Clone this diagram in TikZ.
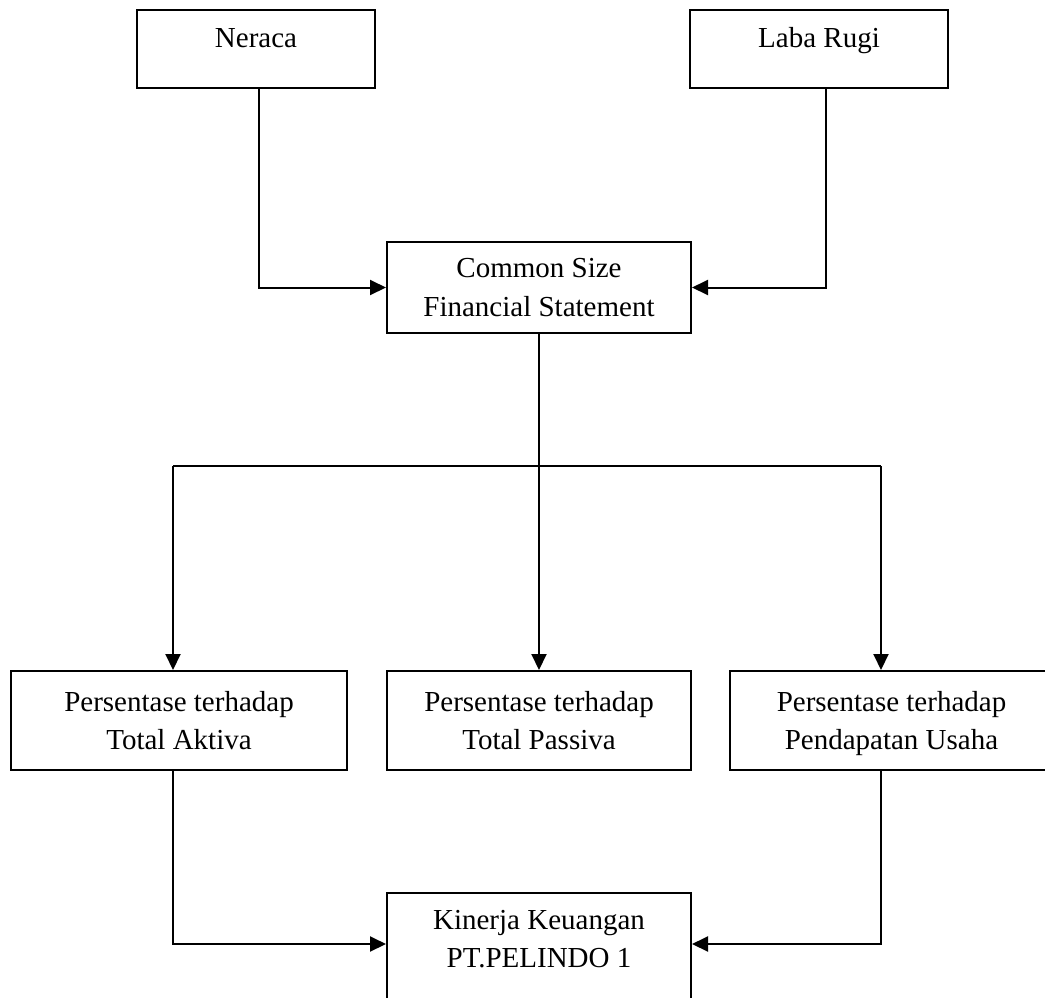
\documentclass[tikz,border=0pt]{standalone}
\usepackage{fontspec}
\setmainfont{Liberation Serif}
\usepackage{tikz}
\usetikzlibrary{arrows.meta}

\tikzset{
  box/.style={draw, line width=1pt, rectangle, align=center, inner sep=0pt,
              font=\fontsize{14.5pt}{19.2pt}\selectfont},
  arr/.style={line width=1pt, -{Triangle[length=8pt,width=7.5pt]}}
}

\begin{document}
\begin{tikzpicture}[x=0.5pt,y=-0.5pt]
        \useasboundingbox (0,0) rectangle (1045,997);                     %
        % sumber laporan
        \node [box, minimum width=119pt, text height=18.5pt, text depth=20.5pt]
              (neraca) at (256,49)   {Neraca};                            %
        \node [box, minimum width=129pt, text height=18.5pt, text depth=20.5pt]
              (labarugi) at (819,49) {Laba Rugi};                         %
        \node [box, minimum width=152pt, minimum height=45.5pt]
              (common) at (539,287.5) {Common Size\\Financial Statement};  %
        % persentase
        \node [box, minimum width=168pt, minimum height=49.5pt]
              (aktiva) at (179,720.5) {Persentase terhadap\\Total Aktiva}; %
        \node [box, minimum width=152pt, minimum height=49.5pt]
              (passiva) at (539,720.5) {Persentase terhadap\\Total Passiva};%
        \node [box, minimum width=161.5pt, minimum height=49.5pt, text depth=0pt]
              (usaha) at (891.5,720.5) {Persentase terhadap\\Pendapatan Usaha};%
        % hasil
        \node [box, minimum width=152pt, minimum height=65pt]
              (kinerja) at (539,958) {Kinerja Keuangan\\PT.PELINDO 1\\ \mbox{}};%

        \coordinate (busL) at (173,466);                                  %
        \coordinate (busM) at (539,466);                                  %
        \coordinate (busR) at (881,466);                                  %

        \draw [arr] ([xshift=1.5pt]neraca.south) |- (common.west);         %
        \draw [arr] ([xshift=3.5pt]labarugi.south) |- (common.east);       %
        \draw [line width=1pt] (common.south) -- (busM);                  %
        \draw [line width=1pt] (busL) -- (busR);                          %
        \draw [arr] (busL) -- (busL |- aktiva.north);                     %
        \draw [arr] (busM) -- (passiva.north);                            %
        \draw [arr] (busR) -- (busR |- usaha.north);                      %
        \draw [arr] (aktiva.south -| busL) |- ([yshift=7pt]kinerja.west);  %
        \draw [arr] (usaha.south -| busR) |- ([yshift=7pt]kinerja.east);   %
\end{tikzpicture}
\end{document}
